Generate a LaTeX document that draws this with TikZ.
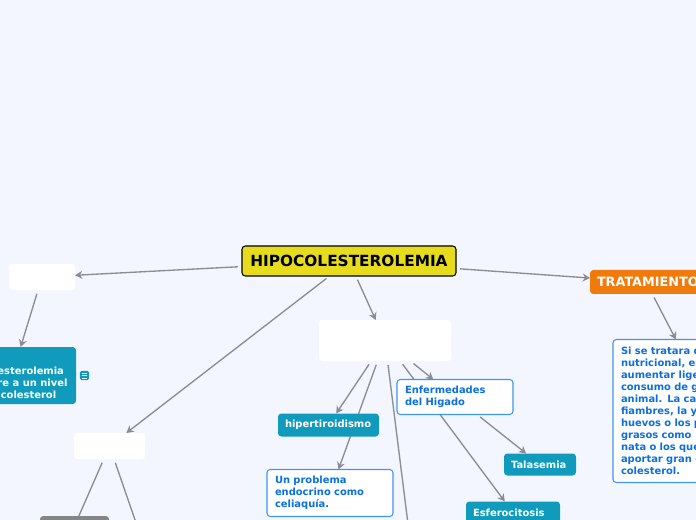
\documentclass[tikz,border=0pt]{standalone}
\usepackage{fontspec}
\setmainfont{DejaVu Sans}
\usetikzlibrary{arrows.meta,backgrounds}
\definecolor{pagebg}{HTML}{F3F6FF}
\definecolor{rootyellow}{HTML}{E6DC1C}
\definecolor{treatorange}{HTML}{F07A0C}
\definecolor{tealbox}{HTML}{109BBD}
\definecolor{linkblue}{HTML}{3F96F0}
\definecolor{textblue}{HTML}{0A6FE0}
\definecolor{linegray}{HTML}{8C8C96}
\definecolor{greybox}{HTML}{858585}
\begin{document}
\begin{tikzpicture}[x=0.75pt,y=-0.75pt, every node/.style={font=\fontsize{7.45}{9}\selectfont\bfseries,inner sep=0pt,outer sep=0pt}]
  \tikzstyle{bx}=[rounded corners=2.5pt,align=left]
  \tikzstyle{blank}=[bx,fill=white]
  \tikzstyle{teal}=[bx,fill=tealbox,text=white,inner xsep=5.25pt]
  \tikzstyle{note}=[bx,draw=linkblue,line width=0.8pt,fill=white,text=textblue,inner xsep=6pt]
  \tikzstyle{link}=[draw=linegray,line width=1pt,shorten <=3pt,-{Stealth[length=5.5pt,width=6pt]}]
  \tikzstyle{plainlink}=[draw=linegray,line width=1pt,shorten <=3pt]
  \useasboundingbox (0,0) rectangle (696,520);
  \node[bx,draw=black,line width=0.8pt,fill=rootyellow,minimum width=160.5pt,minimum height=22.5pt,font=\fontsize{11.5}{13}\selectfont\bfseries] (root) at (349,261) {HIPOCOLESTEROLEMIA};
  \node[bx,fill=treatorange,text=white,text width=73.5pt,inner xsep=5.25pt,minimum height=18pt,font=\fontsize{9.6}{11}\selectfont\bfseries] (treat) at (646,282) {TRATAMIENTO};
  \node[note,text width=138pt,minimum height=107.25pt] (diet) at (713,411) {Si se tratara d\\nutricional, es\\aumentar lige\\consumo de g\\animal. La car\\fiambres, la y\\huevos o los p\\grasos como\\nata o los que\\aportar gran c\\colesterol.};
  \node[blank,minimum width=49.5pt,minimum height=19.5pt] (leftbox) at (42,277) {};
  \node[teal,minimum width=96pt,minimum height=42.75pt] (defbox) at (12,375.5) {};
  \node[anchor=west,text=white,align=left] (deftext) at (-2.5,383) {esterolemia\\re a un nivel\\\hspace{2.5pt}colesterol};
  \node[bx,rounded corners=1.2pt,fill=tealbox,minimum width=7pt,minimum height=7pt] (noteicon) at (84.5,375.5) {};
  \foreach \k in {-1.8,0,1.8}
    \draw[white,line width=0.5pt] ([xshift=-2.2pt,yshift=\k pt]noteicon.center) -- ([xshift=2.2pt,yshift=\k pt]noteicon.center);
  \node[blank,minimum width=53.25pt,minimum height=19.5pt] (causebox) at (109.5,446) {};
  \node[bx,fill=greybox,minimum width=51.75pt,minimum height=15pt] (greynode) at (74.5,526) {};
  \node[blank,minimum width=99pt,minimum height=30.75pt] (midbox) at (385,340.5) {};
  \node[teal,text width=65.25pt,minimum height=17.25pt] (hiper) at (328.5,425) {hipertiroidismo};
  \node[note,text width=82.5pt,minimum height=35.25pt] (endo) at (330,493) {Un problema\\endocrino como\\celiaquía.};
  \node[note,text width=75pt,minimum height=26.25pt] (liver) at (455,397) {Enfermedades\\del Higado};
  \node[teal,text width=43.5pt,minimum height=16.5pt] (tala) at (540,464.5) {Talasemia};
  \node[teal,text width=60pt,minimum height=16.5pt] (esfero) at (513,512.5) {Esferocitosis};
  \coordinate (midend) at (410,540);
  \coordinate (causeend) at (142,540);
  \begin{scope}[on background layer]
    \fill[pagebg] (0,0) rectangle (696,520);
    \draw[link] (root) -- (leftbox);
    \draw[link] (root) -- (treat);
    \draw[link] (root) -- (midbox);
    \draw[link] (root) -- (causebox);
    \draw[link] (treat) -- (diet);
    \draw[link] (leftbox) -- (defbox);
    \draw[plainlink] (causebox) -- (greynode);
    \draw[plainlink] (causebox) -- (causeend);
    \draw[link] (midbox) -- (hiper);
    \draw[link] (midbox) -- (endo);
    \draw[link] (midbox) -- (liver);
    \draw[link] (midbox) -- (esfero);
    \draw[plainlink] (midbox) -- (midend);
    \draw[link] (liver) -- (tala);
  \end{scope}
\end{tikzpicture}
\end{document}
